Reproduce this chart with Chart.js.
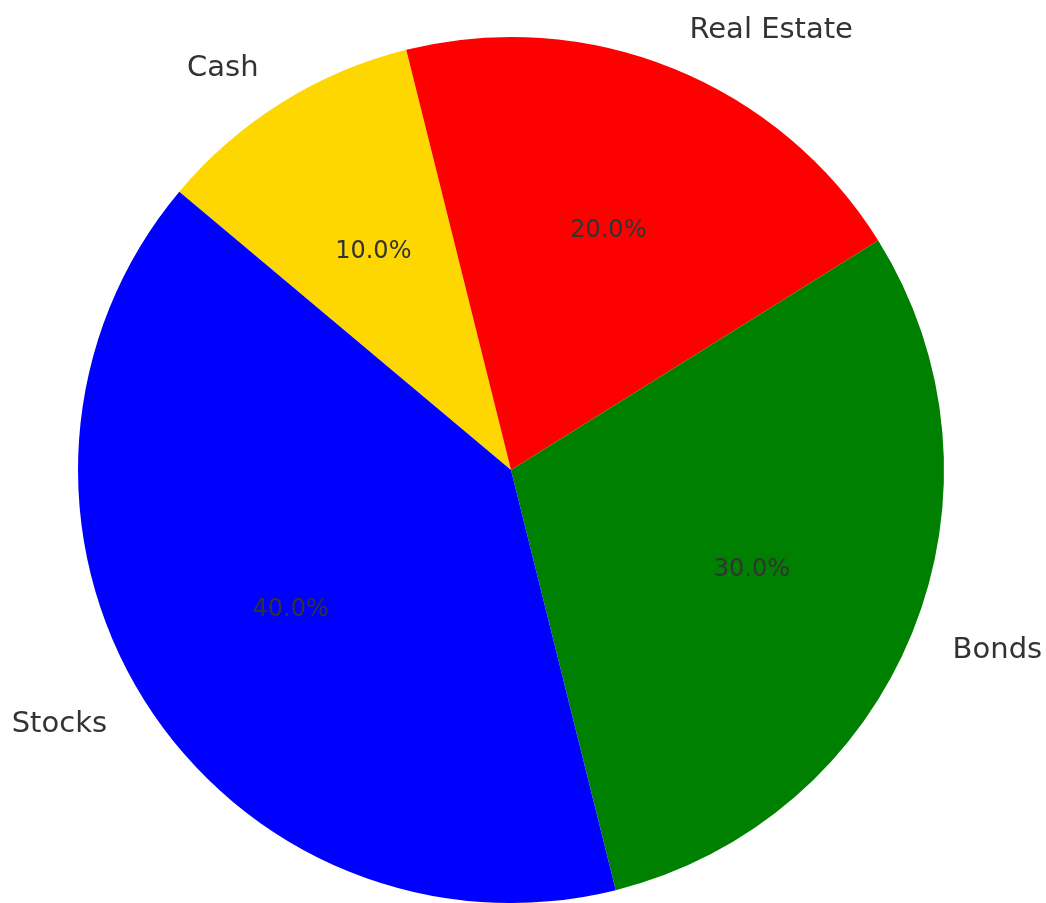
<!DOCTYPE html>
<html>
<head>
<meta charset="utf-8">
<script src="https://cdn.jsdelivr.net/npm/chart.js@4"></script>
<style>
  html, body { margin: 0; padding: 0; background: #fff; }
  #wrap { width: 1046px; height: 903px; }
</style>
</head>
<body>
<div id="wrap"><canvas id="pieChart"></canvas></div>
<script>
// slices listed clockwise, starting from the upper-left edge
const labels = ['Cash', 'Real Estate', 'Bonds', 'Stocks'];
const shares = [10, 20, 30, 40];
const colors = ['#FFD700', '#FF0000', '#008000', '#0000FF'];

const textColor = '#333333';
const fontFamily = '"DejaVu Sans", sans-serif';

// draws the category names outside and the percentages inside
const sliceText = {
    id: 'sliceText',
    afterDatasetsDraw(chart) {
        const ctx = chart.ctx;
        const total = shares.reduce((a, b) => a + b, 0);
        chart.getDatasetMeta(0).data.forEach((arc, i) => {
            const mid = (arc.startAngle + arc.endAngle) / 2;
            const r = arc.outerRadius;
            const cx = Math.cos(mid), cy = Math.sin(mid);
            ctx.save();
            ctx.fillStyle = textColor;
            ctx.textBaseline = 'middle';

            ctx.font = '24px ' + fontFamily;
            ctx.textAlign = 'center';
            const pct = (shares[i] / total * 100).toFixed(1) + '%';
            ctx.fillText(pct, arc.x + cx * r * 0.6, arc.y + cy * r * 0.6 + 2);

            ctx.font = '29px ' + fontFamily;
            ctx.textAlign = cx < 0 ? 'right' : 'left';
            ctx.fillText(labels[i], arc.x + cx * r * 1.1, arc.y + cy * r * 1.1 + 2);
            ctx.restore();
        });
    }
};

const ctxPie = document.getElementById('pieChart').getContext('2d');
const pieChart = new Chart(ctxPie, {
    type: 'pie',
    data: {
        labels: labels,
        datasets: [{
            data: shares,
            backgroundColor: colors,
            borderWidth: 0
        }]
    },
    options: {
        responsive: true,
        maintainAspectRatio: false,
        animation: false,
        rotation: -50,
        layout: {
            padding: { left: 0, right: 24, top: 37, bottom: 0 }
        },
        plugins: {
            legend: { display: false },
            tooltip: { enabled: false }
        }
    },
    plugins: [sliceText]
});
</script>
</body>
</html>
